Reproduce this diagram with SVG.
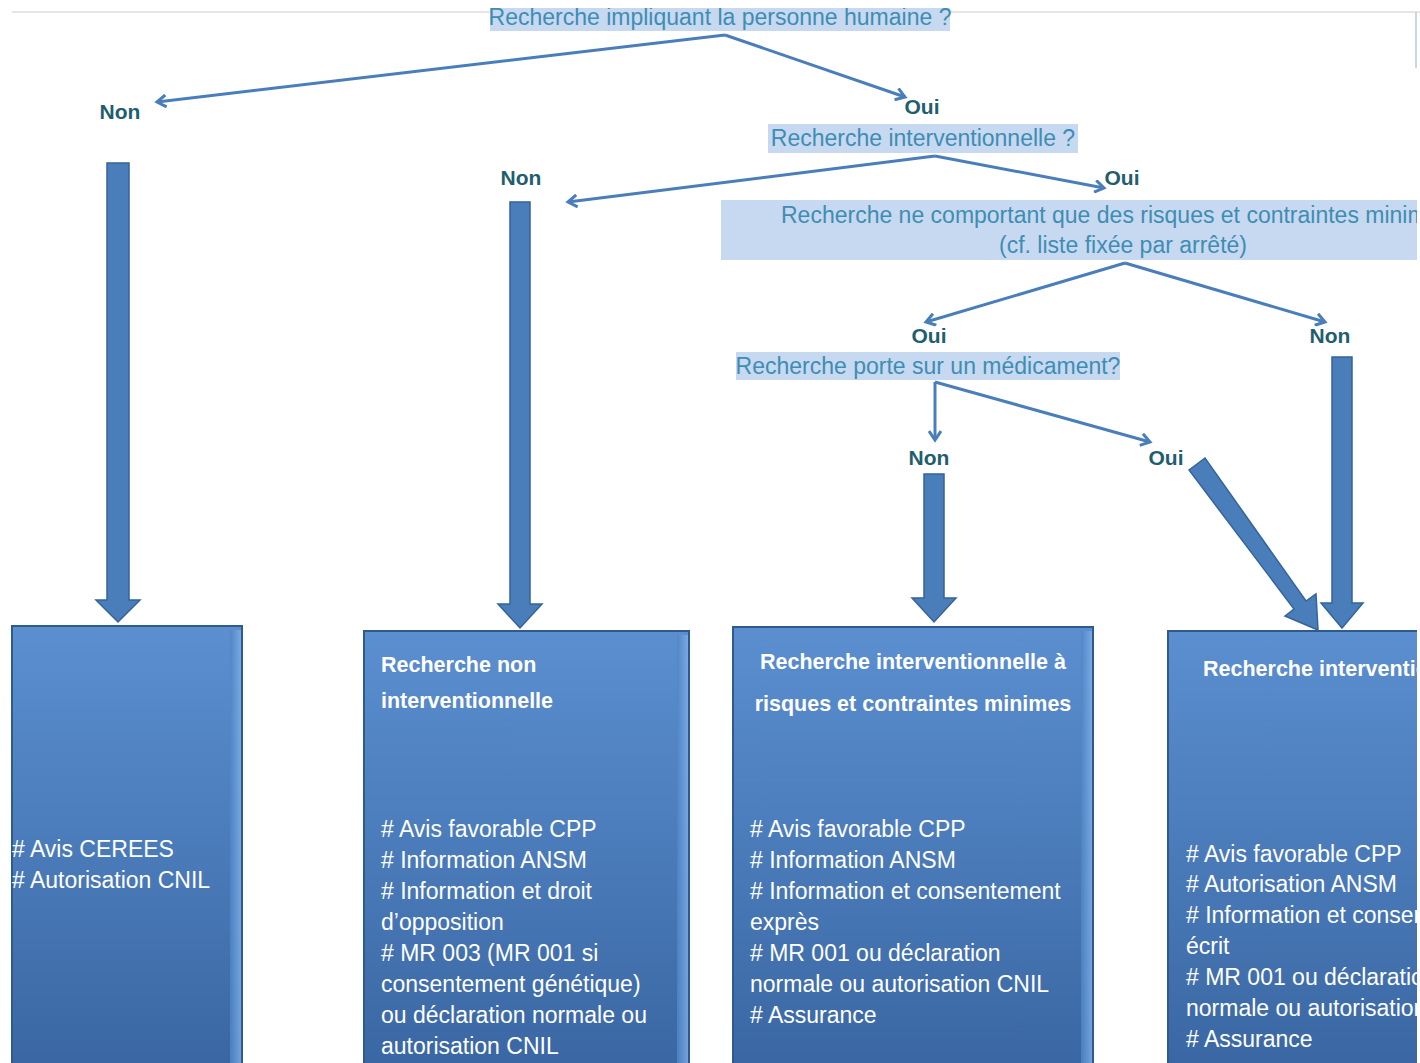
<svg xmlns="http://www.w3.org/2000/svg" width="1420" height="1063" viewBox="0 0 1420 1063">
<style>
.q{font-family:"Liberation Sans",Arial,sans-serif;font-size:23px;fill:#3f8db3}
.hl{fill:#c6d9f1}
.yn{font-family:"Liberation Sans",Arial,sans-serif;font-size:21px;font-weight:bold;fill:#1f5e6e;text-anchor:middle}
.ln{fill:none;stroke:#4a7ebb;stroke-width:3}
.blk{fill:#4a7ebb;stroke:#35639b;stroke-width:1.5}
.bx{fill:url(#g);stroke:#2f5a90;stroke-width:2}
.bt{font-family:"Liberation Sans",Arial,sans-serif;font-size:21.5px;font-weight:bold;fill:#ffffff}
.it{font-family:"Liberation Sans",Arial,sans-serif;font-size:23px;fill:#ffffff}
</style>
<defs>
<linearGradient id="g" x1="0" y1="0" x2="0" y2="1">
<stop offset="0" stop-color="#5b8fd0"/>
<stop offset="1" stop-color="#3a67a3"/>
</linearGradient>
<linearGradient id="edge" x1="0" y1="0" x2="1" y2="0">
<stop offset="0" stop-color="#4f84c6"/>
<stop offset="1" stop-color="#7fb0e6"/>
</linearGradient>
<marker id="ah" markerWidth="14" markerHeight="14" refX="11" refY="7" orient="auto" markerUnits="userSpaceOnUse">
<path d="M2,1 L11,7 L2,13" fill="none" stroke="#4a7ebb" stroke-width="3"/>
</marker>
<clipPath id="clip"><rect x="0" y="0" width="1417" height="1063"/></clipPath>
<clipPath id="cliptop"><rect x="0" y="8" width="1420" height="1055"/></clipPath>
</defs>
<rect width="1420" height="1063" fill="#ffffff"/>
<line x1="12" y1="12" x2="1420" y2="12" stroke="#dcdcdc" stroke-width="1.5"/>
<line x1="1416" y1="12" x2="1416" y2="68" stroke="#b9c9dc" stroke-width="1.5"/>

<g id="q1" clip-path="url(#cliptop)">
<rect class="hl" x="490" y="5" width="460" height="26"/>
<text class="q" x="720" y="25" text-anchor="middle">Recherche impliquant la personne humaine ?</text>
</g>
<g id="q2">
<rect class="hl" x="768" y="124" width="310" height="29"/>
<text class="q" x="923" y="146" text-anchor="middle">Recherche interventionnelle ?</text>
</g>
<g id="q3" clip-path="url(#clip)">
<rect class="hl" x="721" y="200" width="699" height="60"/>
<text class="q" x="781" y="223">Recherche ne comportant que des risques et contraintes minimes</text>
<text class="q" x="1123" y="253" text-anchor="middle">(cf. liste fixée par arrêté)</text>
</g>
<g id="q4">
<rect class="hl" x="736" y="352" width="384" height="28"/>
<text class="q" x="928" y="374" text-anchor="middle">Recherche porte sur un médicament?</text>
</g>

<g id="labels">
<text class="yn" x="120" y="119">Non</text>
<text class="yn" x="922" y="114">Oui</text>
<text class="yn" x="521" y="185">Non</text>
<text class="yn" x="1122" y="185">Oui</text>
<text class="yn" x="929" y="343">Oui</text>
<text class="yn" x="1330" y="343">Non</text>
<text class="yn" x="929" y="465">Non</text>
<text class="yn" x="1166" y="465">Oui</text>
</g>

<g id="connectors">
<line class="ln" x1="725" y1="35" x2="157" y2="102" marker-end="url(#ah)"/>
<line class="ln" x1="725" y1="35" x2="905" y2="97" marker-end="url(#ah)"/>
<line class="ln" x1="935" y1="156" x2="568" y2="202" marker-end="url(#ah)"/>
<line class="ln" x1="935" y1="156" x2="1104" y2="188" marker-end="url(#ah)"/>
<line class="ln" x1="1125" y1="263" x2="926" y2="322" marker-end="url(#ah)"/>
<line class="ln" x1="1125" y1="263" x2="1325" y2="322" marker-end="url(#ah)"/>
<line class="ln" x1="935" y1="382" x2="935" y2="440" marker-end="url(#ah)"/>
<line class="ln" x1="935" y1="382" x2="1150" y2="442" marker-end="url(#ah)"/>
<polygon class="blk" points="107,163 129,163 129,600 140,600 118,622 96,600 107,600"/>
<polygon class="blk" points="510,202 530,202 530,604 542,604 520,628 498,604 510,604"/>
<polygon class="blk" points="924,474 944,474 944,598 956,598 934,622 912,598 924,598"/>
<polygon class="blk" points="1332,357 1352,357 1352,603 1363,603 1342,628 1321,603 1332,603"/>
<polygon class="blk" points="1189,470 1205,458 1306,601 1316,594 1318,630 1285,616 1294,609"/>
</g>

<g id="box1">
<rect class="bx" x="12" y="626" width="230" height="440"/>
<rect x="230" y="630" width="11" height="436" fill="url(#edge)" opacity="0.8"/>
<text class="it" x="12" y="857"># Avis CEREES</text>
<text class="it" x="12" y="888"># Autorisation CNIL</text>
</g>
<g id="box2">
<rect class="bx" x="364" y="631" width="325" height="435"/>
<rect x="677" y="635" width="11" height="431" fill="url(#edge)" opacity="0.8"/>
<text class="bt" x="381" y="672">Recherche non</text>
<text class="bt" x="381" y="708">interventionnelle</text>
<text class="it" x="381" y="837"># Avis favorable CPP</text>
<text class="it" x="381" y="868"># Information ANSM</text>
<text class="it" x="381" y="899"># Information et droit</text>
<text class="it" x="381" y="930">d’opposition</text>
<text class="it" x="381" y="961"># MR 003 (MR 001 si</text>
<text class="it" x="381" y="992">consentement génétique)</text>
<text class="it" x="381" y="1023">ou déclaration normale ou</text>
<text class="it" x="381" y="1054">autorisation CNIL</text>
</g>
<g id="box3">
<rect class="bx" x="733" y="627" width="360" height="439"/>
<rect x="1081" y="631" width="11" height="435" fill="url(#edge)" opacity="0.8"/>
<text class="bt" x="913" y="669" text-anchor="middle">Recherche interventionnelle à</text>
<text class="bt" x="913" y="711" text-anchor="middle">risques et contraintes minimes</text>
<text class="it" x="750" y="837"># Avis favorable CPP</text>
<text class="it" x="750" y="868"># Information ANSM</text>
<text class="it" x="750" y="899"># Information et consentement</text>
<text class="it" x="750" y="930">exprès</text>
<text class="it" x="750" y="961"># MR 001 ou déclaration</text>
<text class="it" x="750" y="992">normale ou autorisation CNIL</text>
<text class="it" x="750" y="1023"># Assurance</text>
</g>
<g id="box4" clip-path="url(#clip)">
<rect class="bx" x="1168" y="631" width="260" height="435"/>
<text class="bt" x="1203" y="676">Recherche interventionnelle</text>
<text class="it" x="1186" y="862"># Avis favorable CPP</text>
<text class="it" x="1186" y="892"># Autorisation ANSM</text>
<text class="it" x="1186" y="923"># Information et consentement</text>
<text class="it" x="1186" y="954">écrit</text>
<text class="it" x="1186" y="985"># MR 001 ou déclaration</text>
<text class="it" x="1186" y="1016">normale ou autorisation CNIL</text>
<text class="it" x="1186" y="1047"># Assurance</text>
</g>
</svg>
